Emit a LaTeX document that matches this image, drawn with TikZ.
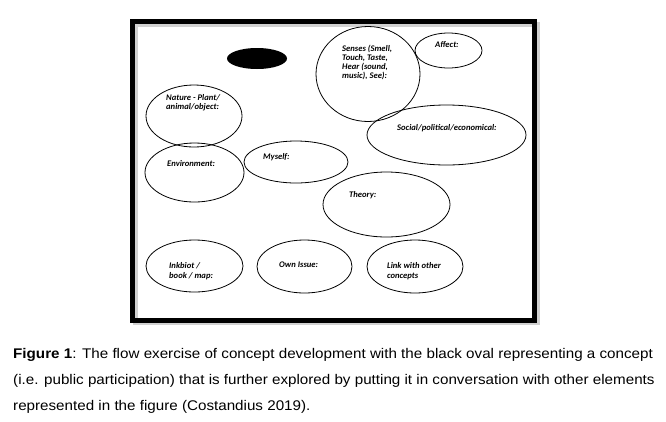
\documentclass[tikz,border=0pt]{standalone}
\usepackage{fontspec}
\setmainfont{Liberation Sans}
\newfontfamily\capfont[FakeStretch=1.085]{Liberation Sans}
\newfontfamily\notefont{Carlito}
\usepackage{tikz}
\usetikzlibrary{positioning,shapes.geometric}

\begin{document}
\begin{tikzpicture}[x=1pt,y=-1pt]
	\tikzstyle{bubble}=[ellipse,draw,line width=0.8pt,inner sep=0pt]
	\tikzstyle{note}=[anchor=west,align=left,inner sep=0pt,font=\notefont\bfseries\itshape\fontsize{8.6}{9.4}\selectfont]
	\tikzstyle{caption}=[anchor=base west,inner sep=0pt,font=\capfont\fontsize{14}{16}\selectfont]
	\useasboundingbox[fill=white] (0,0) rectangle (666,421);
		% frame
		\draw[line width=5pt,black!18] (135,24) rectangle (537,322);
		\draw[line width=5pt] (132.5,21.5) rectangle (534.5,320);
		% the concept
		\node[ellipse,fill=black,minimum width=60pt,minimum height=21pt,inner sep=0pt] (concept) at (257,58.5) {};
		% elements
		\node[bubble, minimum width=104pt, minimum height=95pt] (senses) at (368,74) {};
		\node[bubble, minimum width=67pt, minimum height=35pt] (affect) at (448.5,50.5) {};
		\node[bubble, minimum width=96pt, minimum height=62pt] (nature) at (194,116) {};
		\node[bubble, minimum width=159pt, minimum height=60pt] (social) at (446.5,135) {};
		\node[bubble, minimum width=99pt, minimum height=59pt] (environment) at (194.5,172.5) {};
		\node[bubble, minimum width=104pt, minimum height=42pt] (myself) at (296,162) {};
		\node[bubble, minimum width=127pt, minimum height=65pt] (theory) at (386.5,204.5) {};
		\node[bubble, minimum width=97pt, minimum height=52pt] (inkblot) at (194.5,266) {};
		\node[bubble, minimum width=95pt, minimum height=53pt] (ownissue) at (304.5,266.5) {};
		\node[bubble, minimum width=96pt, minimum height=53pt] (link) at (415,266.5) {};
			\node[note,font=\notefont\bfseries\itshape\fontsize{8.6}{9}\selectfont] (senses-t) at (342,62) {Senses (Smell,\\Touch, Taste,\\Hear (sound,\\music), See):};
			\node[note] (affect-t) at (435,45) {Affect:};
			\node[note] (nature-t) at (166,103) {Nature - Plant/\\animal/object:};
			\node[note] (social-t) at (397,128) {Social/political/economical:};
			\node[note] (environment-t) at (167,164) {Environment:};
			\node[note] (myself-t) at (263,157.5) {Myself:};
			\node[note] (theory-t) at (349,195) {Theory:};
			\node[note] (inkblot-t) at (169,271) {Inkbiot /\\book / map:};
			\node[note] (ownissue-t) at (279,265) {Own Issue:};
			\node[note] (link-t) at (387,271) {Link with other\\concepts};
		% caption
		\node[caption] (cap1) at (13,358) {\textbf{Figure 1}: The flow exercise of concept development with the black oval representing a concept};
		\node[caption] (cap2) at (13,384.5) {(i.e. public participation) that is further explored by putting it in conversation with other elements};
		\node[caption] (cap3) at (13,410) {represented in the figure (Costandius 2019).};
\end{tikzpicture}
\end{document}
